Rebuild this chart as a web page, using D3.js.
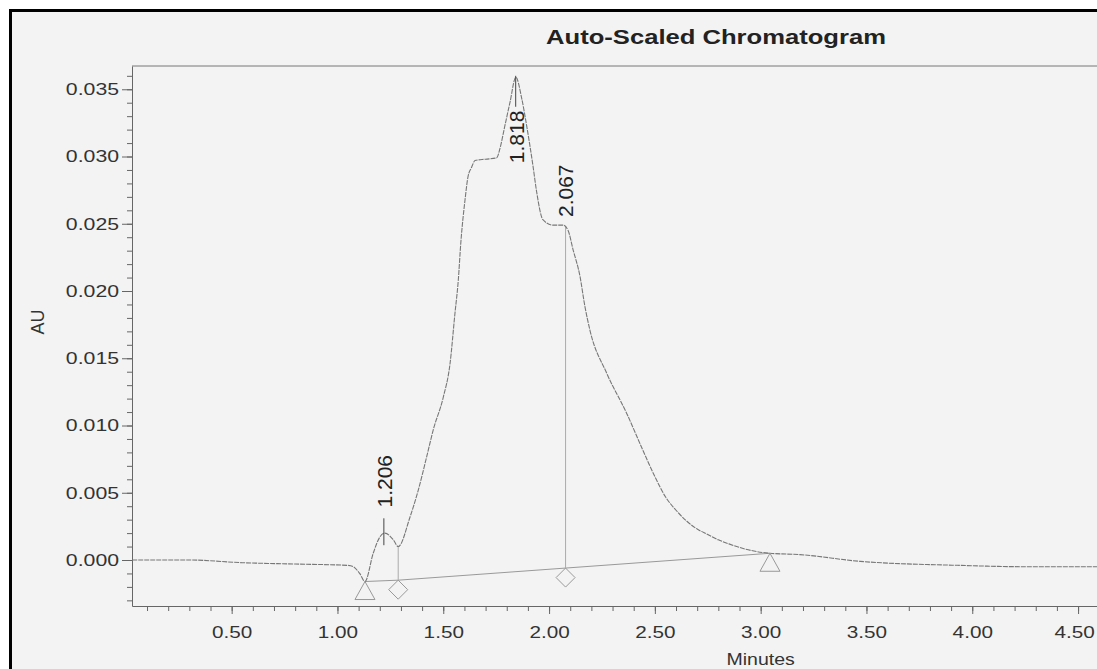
<!DOCTYPE html>
<html>
<head>
<meta charset="utf-8">
<script src="https://cdn.jsdelivr.net/npm/d3@7"></script>
<style>
  body { margin: 0; background: #fff; }
  svg { display: block; font-family: "Liberation Sans", Arial, sans-serif; }
  .wide { transform-box: fill-box; transform-origin: 50% 50%; transform: scaleX(1.22); }
  .wide-right { transform-box: fill-box; transform-origin: 100% 50%; transform: scaleX(1.25); }
</style>
</head>
<body>
<div class="chart"></div>
<script>
// Chromatogram trace (minutes, AU)
var traceTimes = [0.03, 0.30, 0.55, 0.80, 1.05, 1.075, 1.105, 1.13, 1.169, 1.20, 1.224, 1.264, 1.287,
                  1.343, 1.382, 1.422, 1.453, 1.50, 1.532, 1.555, 1.571, 1.583, 1.603, 1.617, 1.634, 1.65,
                  1.70, 1.752, 1.768, 1.79, 1.815, 1.843, 1.871, 1.894, 1.924, 1.941, 1.971, 2.018, 2.066,
                  2.09, 2.113, 2.146, 2.17, 2.193, 2.272, 2.367, 2.445, 2.50, 2.55, 2.60, 2.65, 2.70,
                  2.75, 2.80, 2.85, 2.93, 3.044, 3.186, 3.47, 3.94, 4.257, 4.60];
var traceValues = [0.0000, 0.0000, -0.0002, -0.0003, -0.0004, -0.0005, -0.0010, -0.0016, 0.0005, 0.0017, 0.0020, 0.0015, 0.0010,
                   0.0032, 0.0052, 0.0077, 0.0097, 0.0121, 0.0146, 0.0183, 0.0208, 0.0236, 0.0268, 0.0285, 0.0292, 0.0297,
                   0.0298, 0.0299, 0.0306, 0.0322, 0.0340, 0.0359, 0.0343, 0.0323, 0.0293, 0.0274, 0.0253, 0.0249, 0.0249,
                   0.0245, 0.0231, 0.0211, 0.0188, 0.0171, 0.0139, 0.0109, 0.0081, 0.0062, 0.0047, 0.0037, 0.0029, 0.0023,
                   0.0019, 0.0015, 0.0012, 0.0008, 0.0005, 0.0004, -0.0001, -0.0004, -0.0005, -0.0005];

// Integration events: start / valley drops / end
var eventTimes = [1.13, 1.287, 2.078, 3.044];
var eventValues = [-0.0016, -0.0015, -0.0006, 0.0005];
var eventTypes = ["triangle", "diamond", "diamond", "triangle"];
var dropTopValues = [null, 0.0010, 0.0248, null];

// Peak retention time labels
var peakLabels = ["1.206", "1.818", "2.067"];
var peakLabelTimes = [1.224, 1.847, 2.08];
var peakLabelBottoms = [0.0039, 0.0295, 0.0255];
var peakTickTops = [0.0031, 0.0360, null];
var peakTickBottoms = [0.0011, 0.0337, null];

// Axis ticks
var xMajorTicks = [0.5, 1.0, 1.5, 2.0, 2.5, 3.0, 3.5, 4.0, 4.5];
var xMinorTicks = d3.range(1, 46).map(function(i) { return i / 10; });
var yMajorTicks = [0.000, 0.005, 0.010, 0.015, 0.020, 0.025, 0.030, 0.035];
var yMinorTicks = d3.range(-3, 37).map(function(i) { return i / 1000; });

var width = 1097, height = 669;

// Create svg container
var svg = d3.select(".chart").append("svg")
                             .attr("width", width)
                             .attr("height", height);

// Scanned page background and black frame
svg.append("rect")
   .attr("x", 10).attr("y", 10)
   .attr("width", width).attr("height", height)
   .style("fill", "#f3f3f3");
svg.append("path")
   .attr("d", "M10.5," + height + "V10.5H" + width)
   .style("fill", "none")
   .style("stroke", "#000")
   .style("stroke-width", 3);

// Scales
var x = d3.scaleLinear().domain([0.029, 4.6]).range([132, 132 + 4.571 * 211.6]);
var y = d3.scaleLinear().domain([-0.00342, 0.03673]).range([606, 66]);

// Title
svg.append("text")
   .attr("class", "wide")
   .attr("x", 716).attr("y", 44)
   .attr("text-anchor", "middle")
   .style("font-size", "21px")
   .style("font-weight", "bold")
   .style("fill", "#222")
   .text("Auto-Scaled Chromatogram");

// Top frame line
svg.append("line")
   .attr("x1", x.range()[0]).attr("x2", width)
   .attr("y1", y.range()[1]).attr("y2", y.range()[1])
   .style("stroke", "#777");

// X axis
var xMinor = svg.append("g")
                .attr("transform", "translate(0," + y.range()[0] + ")")
                .call(d3.axisBottom(x).tickValues(xMinorTicks).tickSize(5).tickFormat(""));
xMinor.select(".domain").remove();

var xAxis = svg.append("g")
               .attr("transform", "translate(0," + y.range()[0] + ")")
               .call(d3.axisBottom(x).tickValues(xMajorTicks).tickSize(8).tickSizeOuter(0)
                                     .tickPadding(12).tickFormat(d3.format(".2f")));

// Y axis
var yMinor = svg.append("g")
                .attr("transform", "translate(" + x.range()[0] + ",0)")
                .call(d3.axisLeft(y).tickValues(yMinorTicks).tickSize(5).tickFormat(""));
yMinor.select(".domain").remove();

var yAxis = svg.append("g")
               .attr("transform", "translate(" + x.range()[0] + ",0)")
               .call(d3.axisLeft(y).tickValues(yMajorTicks).tickSize(10).tickSizeOuter(0)
                                   .tickPadding(3).tickFormat(d3.format(".3f")));

svg.selectAll(".domain, .tick line").style("stroke", "#666");
xAxis.selectAll("text").attr("class", "wide");
yAxis.selectAll("text").attr("class", "wide-right");
svg.selectAll(".tick text")
   .style("font-family", "'Liberation Sans', Arial, sans-serif")
   .style("font-size", "17px")
   .style("fill", "#333");

// last x label sits on the page edge, keep it inside
xAxis.selectAll(".tick text")
     .filter(function(d) { return d === 4.5; })
     .attr("x", -4);

// Axis titles
svg.append("text")
   .attr("class", "wide")
   .attr("x", x(3.0)).attr("y", 665)
   .attr("text-anchor", "middle")
   .style("font-size", "16px")
   .style("fill", "#333")
   .text("Minutes");

svg.append("text")
   .attr("transform", "translate(38,322) rotate(-90)")
   .attr("text-anchor", "middle")
   .attr("dominant-baseline", "central")
   .style("font-size", "18px")
   .style("fill", "#333")
   .text("AU");

// Integration baseline
svg.append("path")
   .datum(d3.range(eventTimes.length))
   .attr("d", d3.line().x(function(i) { return x(eventTimes[i]); })
                       .y(function(i) { return y(eventValues[i]); }))
   .style("fill", "none")
   .style("stroke", "#999")
   .style("stroke-width", 1);

// Valley drop lines
svg.selectAll(".drop")
   .data(d3.range(eventTimes.length).filter(function(i) { return dropTopValues[i] !== null; }))
   .enter().append("line")
   .attr("class", "drop")
   .attr("x1", function(i) { return x(eventTimes[i]); })
   .attr("x2", function(i) { return x(eventTimes[i]); })
   .attr("y1", function(i) { return y(dropTopValues[i]); })
   .attr("y2", function(i) { return y(eventValues[i]); })
   .style("stroke", "#aaa");

// Trace
svg.append("path")
   .datum(d3.range(traceTimes.length))
   .attr("d", d3.line().curve(d3.curveMonotoneX)
                       .x(function(i) { return x(traceTimes[i]); })
                       .y(function(i) { return y(traceValues[i]); }))
   .style("fill", "none")
   .style("stroke", "#777")
   .style("stroke-width", 1.1)
   .style("stroke-dasharray", "5,1");

// Event markers: triangle and diamond hang below the point
svg.selectAll(".marker")
   .data(d3.range(eventTimes.length))
   .enter().append("path")
   .attr("class", "marker")
   .attr("transform", function(i) { return "translate(" + x(eventTimes[i]) + "," + y(eventValues[i]) + ")"; })
   .attr("d", function(i) {
     return eventTypes[i] === "triangle" ? "M0,0L10,18L-10,18Z" : "M0,0L9.5,9.5L0,19L-9.5,9.5Z";
   })
   .style("fill", "none")
   .style("stroke", "#999")
   .style("stroke-width", 1);

// Peak ticks
svg.selectAll(".peak-tick")
   .data(d3.range(peakLabels.length).filter(function(i) { return peakTickTops[i] !== null; }))
   .enter().append("line")
   .attr("class", "peak-tick")
   .attr("x1", function(i) { return x(peakLabelTimes[i]) - 1; })
   .attr("x2", function(i) { return x(peakLabelTimes[i]) - 1; })
   .attr("y1", function(i) { return y(peakTickTops[i]); })
   .attr("y2", function(i) { return y(peakTickBottoms[i]); })
   .style("stroke", "#444");

// Peak labels
svg.selectAll(".peak-label")
   .data(d3.range(peakLabels.length))
   .enter().append("text")
   .attr("class", "peak-label")
   .attr("transform", function(i) {
     return "translate(" + x(peakLabelTimes[i]) + "," + y(peakLabelBottoms[i]) + ") rotate(-90)";
   })
   .attr("dominant-baseline", "central")
   .style("font-size", "21px")
   .style("fill", "#222")
   .text(function(i) { return peakLabels[i]; });
</script>
</body>
</html>
